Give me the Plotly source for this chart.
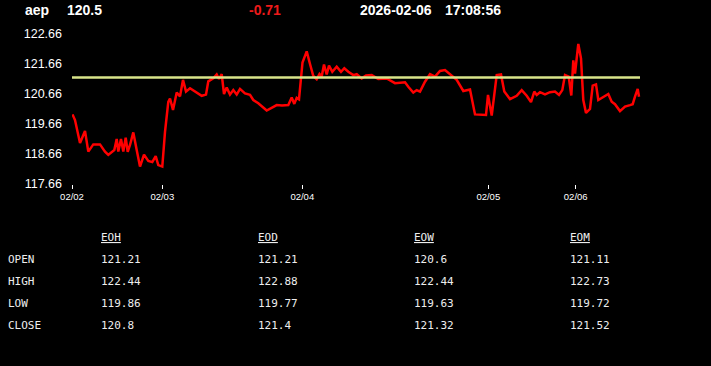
import plotly.graph_objects as go

# ---------------- data ----------------
symbol = "aep"
last_price = "120.5"
change = "-0.71"
date_str = "2026-02-06"
time_str = "17:08:56"

# time axis in session index units
t = [0.5, 3, 8, 13, 16.3, 21.3, 28, 33, 36.3, 42.3, 44.7, 46.3, 49, 51.3, 53.7, 55.7, 58, 61.3, 64.7, 68,
     72, 76.3, 80.3, 83.7, 86.3, 90.3, 93, 96.3, 98, 101, 104.7, 108, 111, 114, 118, 123, 129.7, 134, 136.3,
     141.3, 144.7, 147, 149.7, 152, 154.7, 158, 161.3, 164.7, 168, 173, 178, 181.3, 186.3, 194.7, 199.7,
     204.7, 210, 216.3, 219.7, 222.3, 224.7, 227, 230.5, 234.7, 238, 241.3, 244.7, 247.5, 249.7, 252, 254.7,
     257, 260.3, 264.7, 269, 272.3, 276.3, 281.3, 284.7, 289.7, 294, 299.7, 306.3, 314.7, 323, 333, 336.3,
     341.3, 344.7, 348, 353, 358, 363, 368, 373, 378, 384.7, 391.3, 398, 403, 409.7, 414, 416, 419.7, 424.7,
     429, 432.3, 438, 444.7, 449.7, 454.7, 459, 462.3, 464.7, 468, 473, 478, 483, 487, 490.3, 493, 496.7,
     499.3, 501.3, 503, 506.3, 509, 511.3, 514, 518, 520.7, 524, 526.3, 531.3, 536.3, 539.7, 543, 548, 553,
     558, 560.7, 563, 565.7, 567]
price = [119.98, 119.79, 119.03, 119.43, 118.74, 118.98, 118.98, 118.74, 118.63, 118.79, 119.16, 118.74,
         119.16, 118.74, 119.20, 118.73, 118.96, 119.38, 118.79, 118.24, 118.64, 118.43, 118.39, 118.59,
         118.29, 118.24, 119.40, 120.40, 120.51, 120.13, 120.71, 120.58, 121.13, 120.74, 120.85, 120.74,
         120.60, 120.64, 121.08, 121.18, 121.31, 121.16, 121.32, 120.66, 120.88, 120.64, 120.79, 120.64,
         120.83, 120.68, 120.63, 120.46, 120.35, 120.11, 120.20, 120.29, 120.28, 120.29, 120.54, 120.33,
         120.53, 120.48, 121.71, 122.08, 121.66, 121.26, 121.15, 121.33, 121.24, 121.64, 121.31, 121.61,
         121.40, 121.57, 121.40, 121.52, 121.40, 121.29, 121.32, 121.18, 121.28, 121.29, 121.16, 121.18,
         121.02, 121.05, 120.90, 120.71, 120.79, 120.74, 121.07, 121.32, 121.24, 121.43, 121.46, 121.31,
         121.13, 120.76, 120.81, 119.98, 119.96, 119.96, 120.63, 119.94, 121.29, 121.31, 120.74, 120.49,
         120.60, 120.79, 120.60, 120.39, 120.74, 120.63, 120.72, 120.65, 120.72, 120.74, 120.63, 120.79,
         121.29, 121.24, 120.61, 121.78, 121.34, 122.33, 121.85, 120.46, 120.03, 120.16, 120.94, 120.98,
         120.46, 120.57, 120.66, 120.40, 120.32, 120.09, 120.24, 120.29, 120.32, 120.57, 120.83, 120.57]

ref_t = [0, 568]
ref_level = [121.21, 121.21]

x_tick_vals = [0, 90.3, 230.3, 416.3, 503.7]
x_tick_text = ["02/02", "02/03", "02/04", "02/05", "02/06"]
y_tick_vals = [117.66, 118.66, 119.66, 120.66, 121.66, 122.66]
y_tick_text = ["117.66", "118.66", "119.66", "120.66", "121.66", "122.66"]
x_range = [0, 588]
y_range = [117.66, 122.66]

row_labels = ["OPEN", "HIGH", "LOW", "CLOSE"]
col_headers = ["EOH", "EOD", "EOW", "EOM"]
col_eoh = ["121.21", "122.44", "119.86", "120.8"]
col_eod = ["121.21", "122.88", "119.77", "121.4"]
col_eow = ["120.6", "122.44", "119.63", "121.32"]
col_eom = ["121.11", "122.73", "119.72", "121.52"]
columns = [col_eoh, col_eod, col_eow, col_eom]

# ---------------- layout geometry ----------------
W, H = 711, 366
L, R, T, B = 72, 660, 34, 184


def px(xp):
    return (xp - L) / (R - L)


def py(yp):
    return (B - yp) / (B - T)


fig = go.Figure()
fig.add_trace(go.Scatter(x=t, y=price, mode="lines",
                         line=dict(color="#ff0000", width=2.5), hoverinfo="skip"))
fig.add_trace(go.Scatter(x=ref_t, y=ref_level, mode="lines",
                         line=dict(color="#d9e48a", width=2.5), hoverinfo="skip"))

annotations = []
hdr_font = dict(family="Liberation Sans, Arial", size=14, color="white")
for text, xp, color in [(symbol, 23, "white"), (last_price, 65, "white"), (change, 247, "#ee1a1a"),
                        (date_str, 358, "white"), (time_str, 443, "white")]:
    annotations.append(dict(text="<b>" + text + "</b>", x=px(xp), y=py(9.5), xref="paper", yref="paper",
                            xanchor="left", yanchor="middle", showarrow=False,
                            font=dict(family="Liberation Sans, Arial", size=14, color=color)))

tbl_font = dict(family="DejaVu Sans Mono, monospace", size=11, color="#eeeeee")
col_x = [99, 256, 412, 568]
row_y = [259, 281, 303, 325]
for cx, hdr in zip(col_x, col_headers):
    annotations.append(dict(text="<u>" + hdr + "</u>", x=px(cx), y=py(238), xref="paper", yref="paper",
                            xanchor="left", yanchor="middle", showarrow=False, font=tbl_font))
for ry, lab in zip(row_y, row_labels):
    annotations.append(dict(text=lab, x=px(6), y=py(ry), xref="paper", yref="paper",
                            xanchor="left", yanchor="middle", showarrow=False, font=tbl_font))
for cx, col in zip(col_x, columns):
    for ry, val in zip(row_y, col):
        annotations.append(dict(text=val, x=px(cx), y=py(ry), xref="paper", yref="paper",
                                xanchor="left", yanchor="middle", showarrow=False, font=tbl_font))

fig.update_layout(
    width=W, height=H,
    margin=dict(l=L, r=W - R, t=T, b=H - B, pad=0),
    paper_bgcolor="black", plot_bgcolor="black",
    showlegend=False,
    annotations=annotations,
    xaxis=dict(range=x_range, tickvals=x_tick_vals, ticktext=x_tick_text, ticks="outside",
               ticklen=4, tickwidth=1, tickcolor="white", showgrid=False, zeroline=False,
               showline=False, tickfont=dict(family="Liberation Sans, Arial", size=9.5, color="white")),
    yaxis=dict(range=y_range, tickvals=y_tick_vals, ticktext=y_tick_text, ticks="",
               showgrid=False, zeroline=False, showline=False, ticklabelstandoff=9,
               tickfont=dict(family="Liberation Sans, Arial", size=12.5, color="white")),
)

fig.write_html("out.html")
